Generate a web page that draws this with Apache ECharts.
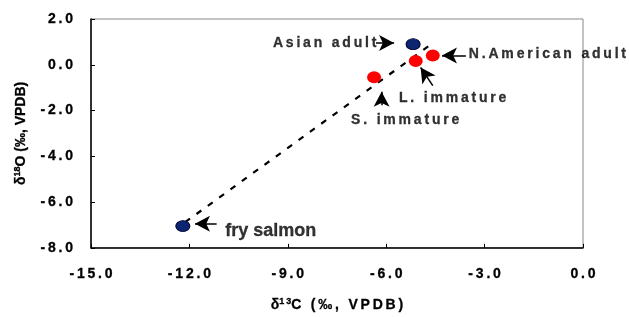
<!DOCTYPE html>
<html>
<head>
<meta charset="utf-8">
<script src="https://cdn.jsdelivr.net/npm/echarts@6/dist/echarts.min.js"></script>
<style>
  html, body { margin: 0; padding: 0; background: #fff; }
  #chart { width: 629px; height: 317px; }
</style>
</head>
<body>
<div id="chart"></div>
<script>
// d13C vs d18O scatter: salmon life stages with a dashed trend line and arrow labels.
const FONT = "'Liberation Sans', Arial, sans-serif";

const xTicks = [-15, -12, -9, -6, -3, 0];
const yTicks = [-8, -6, -4, -2, 0, 2];

// navy points (Asian adult, fry salmon)
const navyX = [-5.18, -12.2];
const navyY = [0.90, -7.05];
// red points (N.American adult, L. immature, S. immature)
const redX = [-4.58, -5.1, -6.37];
const redY = [0.41, 0.16, -0.55];

// dashed trend line end points
const trendX = [-12.13, -4.56];
const trendY = [-6.88, 0.97];

// annotations: text, anchor (x, y), alignment
const labelText = ["Asian adult", "N.American adult", "L. immature", "S. immature", "fry salmon"];
const labelX = [-6.3, -3.48, -5.61, -7.07, -10.91];
const labelY = [0.955, 0.46, -1.48, -2.41, -7.27];
const labelAlign = ["right", "left", "left", "left", "left"];

// arrows: tail -> tip
const arrowFrom = [[-6.31, 0.955], [-3.57, 0.41], [-4.58, -0.91], [-6.14, -1.77], [-11.17, -6.95]];
const arrowTo = [[-5.76, 0.955], [-4.30, 0.41], [-4.95, -0.12], [-6.14, -1.18], [-11.83, -6.95]];

// the original is drawn with loose letter spacing; thin spaces fake it
const sp = (s) => s.split("").join("\u2009");

const chart = echarts.init(document.getElementById("chart"));

const ink = { color: "#000", textBorderColor: "#000", textBorderWidth: 0.3 };
const axisText = Object.assign({ fontFamily: FONT, fontWeight: "bold", fontSize: 14 }, ink);
const richText = (size, supSize, pad) => ({
  d: Object.assign({ fontFamily: FONT, fontWeight: "bold", fontSize: size }, ink),
  sup: Object.assign({ fontFamily: FONT, fontWeight: "bold", fontSize: supSize, verticalAlign: "top", padding: [0, 0, pad, 0] }, ink),
});

chart.setOption({
  animation: false,
  grid: { left: 91, right: 46, top: 19, bottom: 64, show: true, borderColor: "#888", borderWidth: 1 },
  xAxis: {
    type: "value", min: -15, max: 0, interval: 3,
    axisLine: { show: true, onZero: false, lineStyle: { color: "#000", width: 1.5 } },
    axisTick: { show: true, inside: true, length: 4, lineStyle: { color: "#000" } },
    splitLine: { show: false },
    axisLabel: Object.assign({ margin: 19, formatter: (v) => sp(v.toFixed(1)) }, axisText),
    name: "{d|δ}{sup|1\u20093}{d|" + sp("C (‰, VPDB)") + "}",
    nameLocation: "middle", nameGap: 49,
    nameTextStyle: { rich: richText(14, 9, 7) },
  },
  yAxis: {
    type: "value", min: -8, max: 2, interval: 2,
    axisLine: { show: true, onZero: false, lineStyle: { color: "#000", width: 1.5 } },
    axisTick: { show: true, inside: true, length: 4, lineStyle: { color: "#000" } },
    splitLine: { show: false },
    axisLabel: Object.assign({ margin: 18, formatter: (v) => sp(v.toFixed(1)) }, axisText),
    name: "{d|δ}{sup|18}{d|O (‰, VPDB)}",
    nameLocation: "middle", nameGap: 62, nameRotate: 90,
    nameTextStyle: { rich: richText(14, 9, 7) },
  },
  series: [
    {
      name: "trend", type: "line", symbol: "none", silent: true, z: 1,
      data: trendX.map((x, i) => [x, trendY[i]]),
      lineStyle: { color: "#000", width: 2.2, type: [6, 8] },
      markLine: {
        silent: true, symbol: ["none", "arrow"], symbolSize: [12, 15],
        lineStyle: { color: "#000", width: 1.5, type: "solid" },
        label: { show: false },
        data: arrowFrom.map((p, i) => [{ coord: p }, { coord: arrowTo[i] }]),
      },
    },
    {
      name: "navy", type: "scatter", z: 3, symbol: "circle", symbolSize: [14, 11],
      itemStyle: { color: "#0c2570", borderColor: "#000033", borderWidth: 1, opacity: 1 },
      data: navyX.map((x, i) => [x, navyY[i]]),
    },
    {
      name: "red", type: "scatter", z: 3, symbol: "circle", symbolSize: [14, 12],
      itemStyle: { color: "#ff0000", opacity: 1 },
      data: redX.map((x, i) => [x, redY[i]]),
    },
    {
      name: "labels", type: "scatter", z: 4, symbolSize: 0, silent: true,
      data: labelText.map((t, i) => ({
        value: [labelX[i], labelY[i]],
        label: Object.assign({
          show: true, position: "inside", formatter: i === 4 ? t : sp(t),
          align: labelAlign[i], verticalAlign: "middle",
          fontFamily: FONT, fontWeight: "bold", fontSize: i === 4 ? 18 : 14,
        }, ink),
      })),
    },
  ],
});
</script>
</body>
</html>
